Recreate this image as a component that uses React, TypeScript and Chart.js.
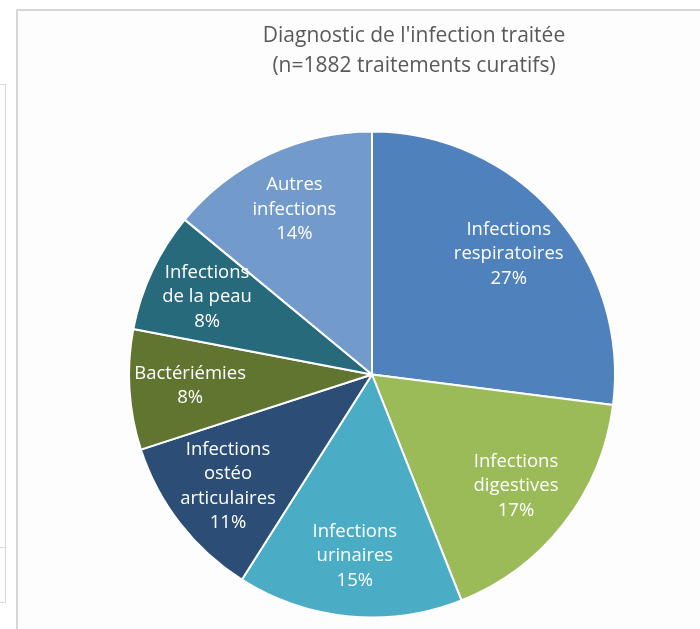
import React, { useEffect, useRef } from "react";
import { Chart, registerables } from "chart.js";

Chart.register(...registerables);

const categories: string[][] = [
  ["Infections", "respiratoires"],
  ["Infections", "digestives"],
  ["Infections", "urinaires"],
  ["Infections", "ostéo", "articulaires"],
  ["Bactériémies"],
  ["Infections", "de la peau"],
  ["Autres", "infections"],
];
const values: number[] = [27, 17, 15, 11, 8, 8, 14];
const colors: string[] = ["#4f81bd", "#9bbb59", "#4bacc6", "#2c4d75", "#5f7530", "#276a7c", "#729aca"];
const titleLines: string[] = ["Diagnostic de l'infection traitée", "(n=1882 traitements curatifs)"];

const FONT = "'Open Sans', sans-serif";

const sliceLabels = {
  id: "sliceLabels",
  afterDatasetsDraw(chart: any) {
    const ctx = chart.ctx;
    const meta = chart.getDatasetMeta(0);
    const data = chart.data.datasets[0].data as number[];
    const total = data.reduce((a, b) => a + b, 0);
    ctx.save();
    ctx.fillStyle = "#ffffff";
    ctx.font = `18.5px ${FONT}`;
    ctx.textAlign = "center";
    ctx.textBaseline = "middle";
    meta.data.forEach((arc: any, i: number) => {
      const p = arc.getProps(["x", "y", "startAngle", "endAngle", "outerRadius"], true);
      const mid = (p.startAngle + p.endAngle) / 2;
      const r = p.outerRadius * 0.75;
      const cx = p.x + Math.cos(mid) * r;
      const cy = p.y + Math.sin(mid) * r;
      const lines = [...(chart.data.labels[i] as string[]), Math.round((data[i] / total) * 100) + "%"];
      const lh = 24.5;
      const y0 = cy - ((lines.length - 1) * lh) / 2;
      lines.forEach((t: string, k: number) => ctx.fillText(t, cx, y0 + k * lh));
    });
    ctx.restore();
  },
};

const customTitle = {
  id: "customTitle",
  afterDraw(chart: any) {
    const ctx = chart.ctx;
    ctx.save();
    ctx.fillStyle = "#595959";
    ctx.font = `21px ${FONT}`;
    ctx.textAlign = "center";
    ctx.textBaseline = "middle";
    titleLines.forEach((t, k) => ctx.fillText(t, 396, 25 + k * 30));
    ctx.restore();
  },
};

export default function App() {
  const ref = useRef<HTMLCanvasElement | null>(null);
  useEffect(() => {
    document.body.style.margin = "0";
    if (!ref.current) return;
    const chart = new Chart(ref.current, {
      type: "pie",
      data: {
        labels: categories as any,
        datasets: [
          {
            data: values,
            backgroundColor: colors,
            borderColor: "#ffffff",
            borderWidth: 2,
          },
        ],
      },
      options: {
        animation: false,
        responsive: false,
        devicePixelRatio: 1,
        layout: { padding: { left: 110, right: 84, top: 119, bottom: 10 } },
        plugins: {
          legend: { display: false },
          title: { display: false },
          tooltip: { enabled: false },
        },
      },
      plugins: [sliceLabels, customTitle],
    });
    return () => chart.destroy();
  }, []);

  return (
    <div style={{ position: "relative", width: 700, height: 629, background: "#ffffff", overflow: "hidden" }}>
      <div
        style={{
          position: "absolute",
          left: -2,
          top: 84,
          width: 6,
          height: 517,
          border: "1px solid #d9d9d9",
          background: "#ffffff",
        }}
      />
      <div style={{ position: "absolute", left: 0, top: 547, width: 5, height: 1, background: "#d9d9d9" }} />
      <div
        style={{
          position: "absolute",
          left: 16,
          top: 9,
          width: 700,
          height: 640,
          borderLeft: "2px solid #d6d6d6",
          borderTop: "2px solid #d6d6d6",
          borderTopLeftRadius: 2,
          background: "#fdfdfd",
        }}
      />
      <canvas ref={ref} width={682} height={618} style={{ position: "absolute", left: 18, top: 11 }} />
    </div>
  );
}
